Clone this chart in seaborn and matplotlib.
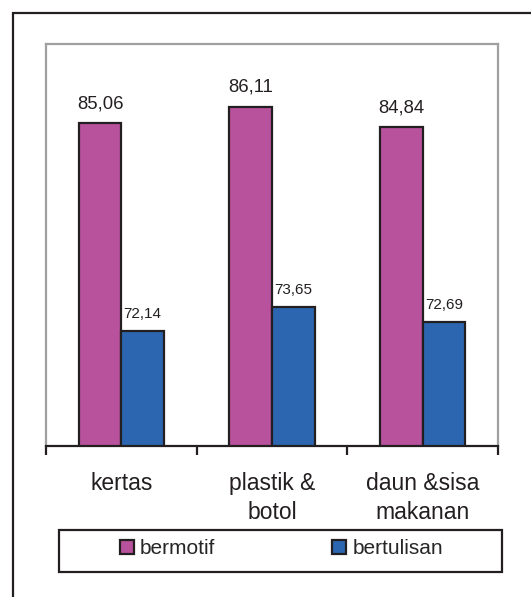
import matplotlib
matplotlib.use("Agg")
import matplotlib.pyplot as plt
from matplotlib.patches import Rectangle, Patch
import pandas as pd
import seaborn as sns

# data
kategori = ["kertas", "plastik &\nbotol", "daun &sisa\nmakanan"]
bermotif = [85.06, 86.11, 84.84]
bertulisan = [72.14, 73.65, 72.69]
jenis = ["bermotif", "bertulisan"]

MAGENTA = "#B9529D"
BLUE = "#2C66B0"
EDGE = "#231F20"

df = pd.DataFrame({
    "kategori": kategori * 2,
    "nilai": bermotif + bertulisan,
    "jenis": [jenis[0]] * 3 + [jenis[1]] * 3,
})

sns.set_style("white")
plt.rcParams["font.family"] = ["Liberation Sans", "DejaVu Sans"]

W, H = 531, 597
fig = plt.figure(figsize=(W / 100, H / 100), dpi=100)
ax = fig.add_axes([46 / W, 1 - 446 / H, (498 - 46) / W, (446 - 44) / H])

sns.barplot(
    data=df, x="kategori", y="nilai", hue="jenis",
    palette=[MAGENTA, BLUE], width=0.566, gap=0,
    edgecolor=EDGE, linewidth=1.6, saturation=1,
    legend=False, ax=ax,
)

ax.set_ylim(65, 90)
ax.set_xlim(-0.5, 2.5)
ax.set_xlabel("")
ax.set_ylabel("")
ax.set_yticks([])

# value labels (comma as decimal separator)
fmt = lambda v: f"{v:.2f}".replace(".", ",")
ax.bar_label(ax.containers[0], labels=[fmt(v) for v in bermotif],
             padding=7.6, fontsize=13.3, color="#231F20")
ax.bar_label(ax.containers[1], labels=[fmt(v) for v in bertulisan],
             padding=7.1, fontsize=11, color="#231F20")

# frame: gray on three sides, black baseline
for side in ["left", "right", "top"]:
    ax.spines[side].set_color("#A0A0A0")
    ax.spines[side].set_linewidth(1.6)
    ax.spines[side].set_visible(True)
ax.spines["bottom"].set_color(EDGE)
ax.spines["bottom"].set_linewidth(1.6)
ax.spines["bottom"].set_visible(True)

# category labels, separators as minor ticks
ax.set_xticks([0, 1, 2])
ax.set_xticklabels(kategori, fontsize=16.5, color="#231F20", linespacing=1.3)
ax.tick_params(axis="x", which="major", length=0, pad=19)
ax.set_xticks([-0.5, 0.5, 1.5, 2.5], minor=True)
ax.tick_params(axis="x", which="minor", length=6.5, width=1.6,
               direction="out", color=EDGE, bottom=True)

# legend in its own box below the plot
fig.add_artist(Rectangle((59.3 / W, 1 - 572 / H), (502 - 59.3) / W, 42 / H,
                         transform=fig.transFigure, fill=False,
                         edgecolor=EDGE, linewidth=1.6))
handles = [Patch(facecolor=MAGENTA, edgecolor=EDGE, linewidth=1.6),
           Patch(facecolor=BLUE, edgecolor=EDGE, linewidth=1.6)]
fig.legend(handles, jenis, loc="center", ncol=2,
           bbox_to_anchor=(281.5 / W, 1 - 549 / H),
           bbox_transform=fig.transFigure, frameon=False, fontsize=15,
           handlelength=0.67, handleheight=0.67, handletextpad=0.29,
           columnspacing=5.6, borderpad=0)

# outer border (cut off at right and bottom)
fig.add_artist(Rectangle((13.3 / W, -0.2), 1.5, 1.2 - 13.3 / H,
                         transform=fig.transFigure, fill=False,
                         edgecolor=EDGE, linewidth=1.6))

fig.savefig("out.png", dpi=100)
